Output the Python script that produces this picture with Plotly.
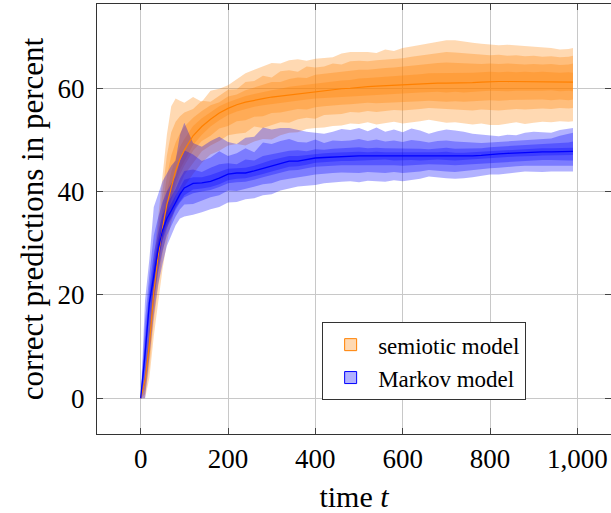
import plotly.graph_objects as go

# time grid
T = [0, 10, 20, 30, 40, 50, 60, 70, 80, 90, 100] + list(range(120, 1000, 20)) + [990]

# ---------------- semiotic model (orange) ----------------
semiotic_mean = [0, 3.5, 10.5, 20.5, 27.5, 33, 37.5, 41, 44, 46.3, 48,
    50.8, 52.6, 54.0, 55.2, 56.1, 56.8, 57.3, 57.7, 58.0, 58.3,
    58.5, 58.8, 59.0, 59.2, 59.4, 59.6, 59.8, 59.9, 60.0, 60.2,
    60.3, 60.4, 60.5, 60.6, 60.7, 60.8, 60.9, 61.0, 61.0, 61.0,
    61.0, 61.0, 61.1, 61.2, 61.3, 61.3, 61.3, 61.3, 61.3, 61.3,
    61.3, 61.3, 61.2, 61.2, 61.2]
semiotic_b1_up = [0, 6, 16, 27, 35, 43, 51, 56.5, 58, 57.6, 57.2,
    58.3, 57.4, 59.5, 59.9, 60.6, 61.7, 62.9, 63.6, 64.2, 64.9,
    64.8, 65.4, 65.6, 65.3, 65.7, 65.9, 66.0, 66.7, 67.0, 67.0,
    67.0, 66.8, 67.5, 67.2, 67.8, 68.1, 68.4, 68.7, 69.0, 69.3,
    69.3, 69.0, 68.8, 68.6, 68.4, 68.3, 68.4, 68.3, 68.1, 68.0,
    67.9, 67.8, 67.5, 67.6, 67.8]
semiotic_b1_lo = [0, 0, 4, 12, 19, 25, 30, 34, 37, 39, 41,
    43.4, 45.6, 47.2, 47.9, 48.9, 49.2, 48.9, 49.7, 50.2, 50.1,
    50.9, 51.4, 51.5, 52.1, 52.3, 52.4, 52.7, 52.8, 53.2, 53.1,
    53.4, 53.0, 53.3, 53.5, 53.2, 53.4, 53.6, 53.9, 53.6, 53.3,
    53.4, 53.2, 53.0, 53.2, 52.9, 52.9, 53.2, 53.4, 53.1, 53.3,
    53.5, 53.4, 53.6, 53.5, 53.6]
semiotic_b2_up = [0, 5, 14.5, 25, 33, 40.5, 47, 51.5, 53.5, 54.6, 55.3,
    56.0, 57.6, 57.4, 58.6, 59.7, 59.8, 61.2, 61.4, 62.4, 62.1,
    63.3, 63.5, 63.2, 64.2, 64.0, 64.2, 64.8, 64.6, 65.2, 65.3,
    65.2, 65.4, 65.5, 65.6, 65.8, 66.1, 66.3, 66.6, 66.8, 67.0,
    66.9, 66.8, 66.6, 66.5, 66.4, 66.5, 66.3, 66.4, 66.2, 66.3,
    66.1, 66.2, 66.0, 66.1, 66.3]
semiotic_b2_lo = [0, 0.8, 6, 15, 22, 28, 32.5, 36, 39, 41.3, 43.2,
    45.4, 47.8, 48.9, 49.8, 50.9, 51.2, 51.4, 52.6, 52.3, 52.8,
    53.4, 53.3, 54.0, 54.3, 54.1, 54.8, 54.9, 55.0, 55.4, 55.3,
    55.6, 55.4, 55.6, 55.8, 55.7, 55.8, 56.0, 56.2, 56.0, 55.9,
    55.9, 55.8, 55.7, 55.9, 55.8, 55.7, 55.9, 56.0, 55.9, 56.0,
    56.1, 56.0, 56.2, 56.1, 56.2]
semiotic_b3_up = [0, 4.5, 13, 23.5, 31, 37.5, 43, 47, 49.5, 51.3, 52.6,
    54.3, 55.6, 56.7, 57.3, 58.4, 58.8, 59.6, 60.1, 60.6, 61.2,
    61.2, 61.8, 62.1, 62.0, 62.6, 62.8, 63.0, 63.2, 63.4, 63.6,
    63.6, 63.8, 63.9, 64.0, 64.2, 64.4, 64.5, 64.7, 64.9, 65.0,
    64.9, 64.8, 64.8, 64.7, 64.8, 64.7, 64.8, 64.7, 64.6, 64.7,
    64.6, 64.7, 64.5, 64.6, 64.8]
semiotic_b3_lo = [0, 1.8, 8, 17.5, 24.5, 30.5, 35, 38.3, 41, 43.3, 45.0,
    47.9, 49.8, 50.8, 52.2, 52.7, 53.6, 53.8, 54.5, 54.6, 55.2,
    55.3, 55.6, 56.0, 55.9, 56.3, 56.5, 56.7, 56.8, 56.9, 57.0,
    57.2, 57.1, 57.2, 57.3, 57.3, 57.4, 57.5, 57.6, 57.5, 57.4,
    57.5, 57.4, 57.5, 57.6, 57.7, 57.6, 57.7, 57.8, 57.7, 57.8,
    57.8, 57.7, 57.8, 57.7, 57.8]
semiotic_b4_up = [0, 4, 11.8, 22, 29.3, 35.2, 40, 43.8, 46.5, 48.7, 50.2,
    52.7, 54.2, 55.4, 56.5, 57.3, 57.9, 58.5, 58.9, 59.3, 59.6,
    59.9, 60.3, 60.5, 60.7, 60.9, 61.1, 61.4, 61.5, 61.6, 61.9,
    62.0, 62.1, 62.3, 62.4, 62.5, 62.6, 62.7, 62.9, 62.9, 63.0,
    62.9, 62.9, 63.0, 63.1, 63.2, 63.1, 63.2, 63.1, 63.2, 63.1,
    63.2, 63.1, 63.0, 63.1, 63.0]
semiotic_b4_lo = [0, 2.8, 9.3, 19, 26, 31, 35.5, 39, 42, 44.3, 46.0,
    49.0, 51.0, 52.6, 53.8, 54.8, 55.5, 55.9, 56.4, 56.7, 57.0,
    57.2, 57.4, 57.6, 57.8, 58.0, 58.1, 58.3, 58.4, 58.5, 58.6,
    58.7, 58.8, 58.9, 59.0, 59.0, 59.1, 59.2, 59.3, 59.3, 59.2,
    59.3, 59.2, 59.3, 59.4, 59.5, 59.5, 59.4, 59.5, 59.6, 59.5,
    59.5, 59.6, 59.4, 59.5, 59.4]

# ---------------- Markov model (blue) ----------------
markov_mean = [0, 8.5, 18.5, 24, 28.8, 32.5, 34.8, 36.3, 38, 39.5, 40.7,
    41.6, 41.7, 42.0, 42.6, 43.4, 43.6, 43.6, 44.0, 44.5, 45.0,
    45.5, 45.9, 45.9, 46.2, 46.5, 46.6, 46.7, 46.8, 46.8, 46.9,
    46.9, 46.9, 46.9, 46.8, 46.8, 46.8, 46.8, 46.8, 46.9, 46.9,
    46.8, 46.8, 46.9, 47.0, 47.2, 47.3, 47.4, 47.5, 47.6, 47.6,
    47.7, 47.7, 47.7, 47.8, 47.8]
markov_b1_up = [0, 19, 27, 37, 39.5, 42, 43.5, 45, 46, 51, 53.3,
    49.4, 48.7, 49.8, 50.6, 49.6, 49.2, 50.4, 50.6, 52.4, 52.0,
    52.3, 52.3, 51.9, 51.6, 51.4, 51.2, 51.6, 52.1, 51.9, 52.3,
    51.7, 52.4, 51.6, 52.0, 51.5, 52.2, 51.8, 51.2, 51.7, 52.0,
    51.8, 51.6, 51.2, 51.0, 50.9, 50.7, 51.0, 50.9, 51.4, 51.6,
    51.5, 51.4, 51.9, 52.2, 52.3]
markov_b1_lo = [0, 0, 8, 16, 22, 26, 29.5, 31.5, 33.5, 34.8, 35.2,
    35.5, 36.0, 36.6, 37.0, 37.9, 38.0, 38.5, 38.7, 39.3, 39.5,
    40.2, 40.6, 41.0, 41.1, 41.3, 41.6, 41.8, 41.9, 42.0, 41.8,
    42.1, 42.0, 41.9, 42.2, 42.0, 42.3, 42.5, 42.9, 42.7, 42.6,
    42.5, 42.6, 42.8, 43.0, 43.3, 43.3, 43.5, 43.7, 43.9, 43.9,
    43.8, 43.9, 44.0, 43.9, 43.9]
markov_b2_up = [0, 15, 24, 31.5, 35, 38, 40, 41.5, 43, 46, 48,
    47.2, 45.9, 46.6, 47.8, 46.9, 47.4, 48.4, 47.6, 49.5, 49.2,
    49.8, 50.2, 49.6, 49.5, 50.1, 49.4, 49.9, 49.8, 49.9, 50.2,
    49.8, 50.1, 49.7, 49.9, 49.6, 50.0, 49.8, 49.5, 49.8, 49.9,
    49.7, 49.6, 49.5, 49.4, 49.5, 49.6, 49.7, 49.8, 50.0, 50.1,
    50.2, 50.3, 50.8, 51.2, 51.4]
markov_b2_lo = [0, 3, 12, 19, 24.5, 28.5, 31.5, 33.3, 35.2, 36.6, 37.5,
    37.6, 38.3, 38.9, 39.3, 40.2, 40.1, 40.5, 41.0, 41.4, 41.6,
    42.2, 42.5, 42.8, 43.0, 43.3, 43.5, 43.6, 43.7, 43.7, 43.6,
    43.8, 43.7, 43.6, 43.8, 43.6, 43.8, 43.9, 44.2, 44.0, 43.9,
    43.8, 43.9, 44.1, 44.3, 44.5, 44.6, 44.7, 44.9, 45.0, 45.0,
    45.0, 45.1, 45.1, 45.0, 45.0]
markov_b3_up = [0, 12, 21.5, 28, 32, 35.5, 37.5, 39, 40.5, 42.5, 44,
    44.3, 43.8, 44.6, 45.3, 45.5, 45.3, 46.2, 46.0, 46.9, 47.2,
    47.5, 47.9, 48.0, 47.8, 48.2, 48.1, 48.3, 48.4, 48.4, 48.6,
    48.4, 48.5, 48.4, 48.4, 48.3, 48.4, 48.3, 48.2, 48.4, 48.5,
    48.3, 48.3, 48.3, 48.4, 48.6, 48.7, 48.8, 48.9, 49.0, 49.1,
    49.2, 49.2, 49.3, 49.5, 49.7]
markov_b3_lo = [0, 5.5, 15, 21.5, 26.5, 30.5, 33, 34.8, 36.5, 37.9, 38.9,
    39.7, 40.0, 40.3, 40.9, 41.6, 41.8, 41.9, 42.3, 42.8, 43.2,
    43.7, 44.1, 44.2, 44.5, 44.8, 44.9, 45.0, 45.1, 45.1, 45.1,
    45.2, 45.2, 45.1, 45.1, 45.0, 45.1, 45.2, 45.3, 45.3, 45.2,
    45.1, 45.2, 45.3, 45.4, 45.6, 45.7, 45.8, 45.9, 46.0, 46.0,
    46.1, 46.1, 46.1, 46.0, 46.0]
markov_b4_up = [0, 10, 20, 26, 30.5, 34, 36.2, 37.7, 39.3, 41, 42.3,
    42.8, 42.8, 43.2, 43.8, 44.4, 44.5, 44.6, 45.0, 45.6, 46.1,
    46.5, 46.9, 46.9, 47.1, 47.3, 47.4, 47.5, 47.6, 47.6, 47.7,
    47.6, 47.7, 47.6, 47.6, 47.5, 47.6, 47.5, 47.5, 47.6, 47.7,
    47.5, 47.5, 47.6, 47.7, 47.9, 48.0, 48.1, 48.2, 48.3, 48.3,
    48.4, 48.4, 48.4, 48.5, 48.5]
markov_b4_lo = [0, 7, 17, 22.3, 27.3, 31.2, 33.6, 35.1, 36.9, 38.2, 39.3,
    40.4, 40.6, 40.9, 41.4, 42.2, 42.5, 42.6, 43.0, 43.4, 43.9,
    44.4, 44.8, 44.9, 45.2, 45.6, 45.7, 45.8, 45.9, 45.9, 46.0,
    46.1, 46.1, 46.2, 46.0, 46.0, 46.1, 46.0, 46.1, 46.2, 46.1,
    46.0, 46.1, 46.2, 46.3, 46.5, 46.6, 46.7, 46.8, 46.9, 46.9,
    47.0, 47.0, 47.0, 47.1, 47.1]

x_ticks = [0, 200, 400, 600, 800, 1000]
y_ticks = [0, 20, 40, 60]
series_names = ["semiotic model", "Markov model"]

ORANGE = "#ff8000"
BLUE = "#0000ff"
O_FILL = "rgba(255,128,0,0.3)"
B_FILL = "rgba(0,0,255,0.3)"
FONT = "Liberation Serif"

fig = go.Figure()

def add_band(up, lo, fill):
    fig.add_trace(go.Scatter(
        x=T + T[::-1], y=up + lo[::-1], fill="toself", fillcolor=fill,
        mode="lines", line=dict(width=0), showlegend=False, hoverinfo="skip"))

for up, lo in [(semiotic_b1_up, semiotic_b1_lo), (semiotic_b2_up, semiotic_b2_lo),
               (semiotic_b3_up, semiotic_b3_lo), (semiotic_b4_up, semiotic_b4_lo)]:
    add_band(up, lo, O_FILL)
for up, lo in [(markov_b1_up, markov_b1_lo), (markov_b2_up, markov_b2_lo),
               (markov_b3_up, markov_b3_lo), (markov_b4_up, markov_b4_lo)]:
    add_band(up, lo, B_FILL)

fig.add_trace(go.Scatter(x=T, y=semiotic_mean, mode="lines",
                         line=dict(color=ORANGE, width=1.2), showlegend=False))
fig.add_trace(go.Scatter(x=T, y=markov_mean, mode="lines",
                         line=dict(color=BLUE, width=1.3), showlegend=False))

# legend entries as rectangle swatches (zero-size shapes, legend only)
for name, fill, col in [(series_names[0], O_FILL, ORANGE), (series_names[1], B_FILL, BLUE)]:
    fig.add_shape(type="rect", xref="x", yref="y", x0=T[0], x1=T[0],
                  y0=semiotic_mean[0], y1=semiotic_mean[0],
                  fillcolor=fill, line=dict(color=col, width=1),
                  showlegend=True, name=name)

# right-side tick marks (no line)
fig.add_trace(go.Scatter(x=[None], y=[None], yaxis="y2", showlegend=False))

axis_common = dict(showgrid=True, gridcolor="#c8c8c8", gridwidth=1,
                   zeroline=False, ticks="inside", ticklen=6, tickwidth=1,
                   tickcolor="#444", linecolor="#333", linewidth=1.2,
                   automargin=False,
                   tickfont=dict(family=FONT, size=27, color="black"))

fig.update_layout(
    width=611, height=513,
    margin=dict(l=97, r=0, t=4, b=79, autoexpand=False),
    plot_bgcolor="white", paper_bgcolor="white",
    font=dict(family=FONT, color="black"),
    xaxis=dict(range=[-100, 1077], tickvals=x_ticks, tickformat=",d",
               showline=True, mirror="ticks",
               title=dict(text="time <i>t</i>", font=dict(family=FONT, size=30),
                          standoff=13),
               **axis_common),
    yaxis=dict(range=[-6.9, 76.3], tickvals=y_ticks, showline=True, mirror=False,
               ticklabelstandoff=6,
               title=dict(text="correct predictions in percent",
                          font=dict(family=FONT, size=31), standoff=4),
               **axis_common),
    yaxis2=dict(overlaying="y", side="right", range=[-6.9, 76.3], tickvals=y_ticks,
                ticks="inside", ticklen=6, tickcolor="#444", showticklabels=False,
                showgrid=False, showline=False, zeroline=False, automargin=False),
    legend=dict(x=0.438, y=0.26, xanchor="left", yanchor="top",
                bgcolor="white", bordercolor="#333", borderwidth=1,
                font=dict(family=FONT, size=23), itemwidth=45,
                tracegroupgap=0),
    showlegend=True,
)

fig.write_html("out.html", config={"displayModeBar": False},
               post_script="document.body.style.margin='0';")
